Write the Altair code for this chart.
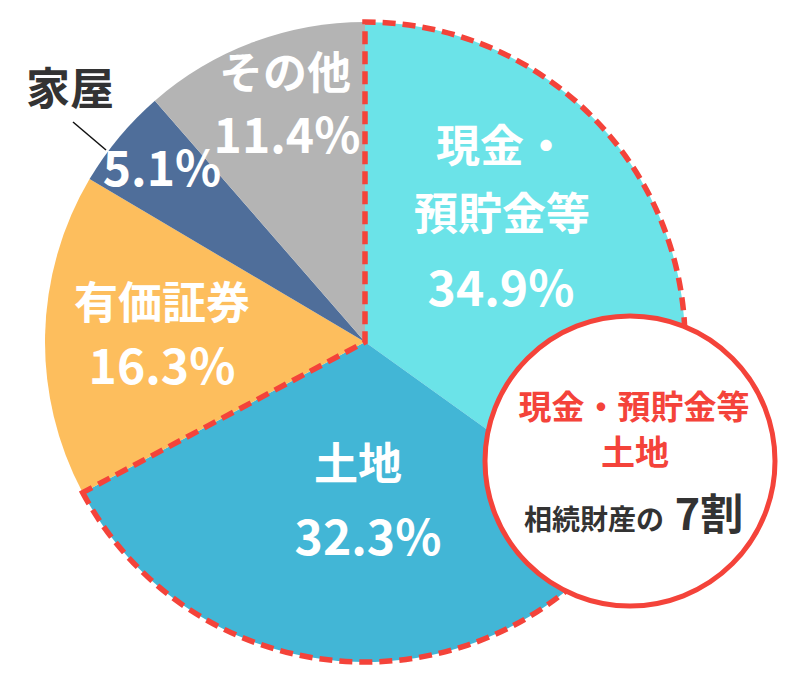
import altair as alt
import pandas as pd

# ---- data ----
categories = ["現金・預貯金等", "土地", "有価証券", "家屋", "その他"]
shares = [34.9, 32.3, 16.3, 5.1, 11.4]
colors = ["#6BE3E8", "#42B6D6", "#FDBE5D", "#4F6E9A", "#B4B4B4"]
name_labels = [["現金・", "預貯金等"], ["土地"], ["有価証券"], ["家屋"], ["その他"]]
callout_lines = ["現金・預貯金等", "土地"]
callout_sub = "相続財産の"
callout_big = "7割"

# ---- layout (pixels, chart coordinates) ----
W, H = 784, 681
CX, CY, R = 357, 334, 320
RED = "#F4433A"
DARK = "#333333"
FONT = "Noto Sans CJK JP"

name_pos = [[(494, 141), (494, 209)], [(350, 459)], [(154, 298)], [(62, 84)], [(277, 68)]]
name_color = ["white", "white", "white", DARK, "white"]
pct_pos = [(493, 284), (360, 533), (154, 362), (154, 164), (279, 131)]

pie_df = pd.DataFrame({"cat": categories, "share": shares, "order": list(range(len(categories)))})

base_theta = alt.Theta("share:Q", stack=True)

pie = alt.Chart(pie_df).mark_arc(radius=R).encode(
    theta=base_theta,
    order=alt.Order("order:Q"),
    color=alt.Color("cat:N", scale=alt.Scale(domain=categories, range=colors), legend=None),
    x=alt.value(CX),
    y=alt.value(CY),
)

group_df = pd.DataFrame({
    "grp": ["A", "B"],
    "share": [shares[0] + shares[1], sum(shares[2:])],
    "order": [0, 1],
})
outline = alt.Chart(group_df).mark_arc(
    radius=R, fillOpacity=0, stroke=RED, strokeWidth=5.5, strokeDash=[13, 7]
).encode(
    theta=base_theta,
    order=alt.Order("order:Q"),
    strokeOpacity=alt.StrokeOpacity("grp:N", scale=alt.Scale(domain=["A", "B"], range=[1, 0]), legend=None),
    x=alt.value(CX),
    y=alt.value(CY),
)

rows = []
for i, cat in enumerate(categories):
    for txt, (px, py) in zip(name_labels[i], name_pos[i]):
        rows.append({"t": txt, "x": px, "y": py, "s": 44, "c": name_color[i]})
    px, py = pct_pos[i]
    rows.append({"t": f"{shares[i]}%", "x": px, "y": py, "s": 48, "c": "white"})
label_df = pd.DataFrame(rows)

labels = alt.Chart(label_df).mark_text(
    font=FONT, fontWeight="bold", baseline="middle", align="center"
).encode(
    x=alt.X("x:Q", scale=None, axis=None),
    y=alt.Y("y:Q", scale=None, axis=None),
    text="t:N",
    size=alt.Size("s:Q", scale=None, legend=None),
    color=alt.Color("c:N", scale=None, legend=None),
)

leader = alt.Chart(pd.DataFrame({"a": [0]})).mark_rule(color="#111111", strokeWidth=1.5).encode(
    x=alt.value(65), y=alt.value(114), x2=alt.value(98), y2=alt.value(142)
)

circle = alt.Chart(pd.DataFrame({"a": [0]})).mark_arc(
    radius=145, theta=0, theta2=6.2832, fill="white", stroke=RED, strokeWidth=5
).encode(x=alt.value(622), y=alt.value(453))

c_rows = [
    {"t": callout_lines[0], "x": 626, "y": 401, "s": 33, "c": RED},
    {"t": callout_lines[1], "x": 627, "y": 447, "s": 34, "c": RED},
    {"t": callout_sub, "x": 586, "y": 514, "s": 28, "c": DARK},
    {"t": callout_big, "x": 701, "y": 509, "s": 43, "c": DARK},
]
callout = alt.Chart(pd.DataFrame(c_rows)).mark_text(
    font=FONT, fontWeight="bold", baseline="middle", align="center"
).encode(
    x=alt.X("x:Q", scale=None, axis=None),
    y=alt.Y("y:Q", scale=None, axis=None),
    text="t:N",
    size=alt.Size("s:Q", scale=None, legend=None),
    color=alt.Color("c:N", scale=None, legend=None),
)

chart = alt.layer(pie, outline, labels, leader, circle, callout).properties(
    width=W, height=H, padding=0, autosize=alt.AutoSizeParams(type="none")
).configure_view(stroke=None)

chart.save("out.html", embed_options={"renderer": "svg", "actions": False})
